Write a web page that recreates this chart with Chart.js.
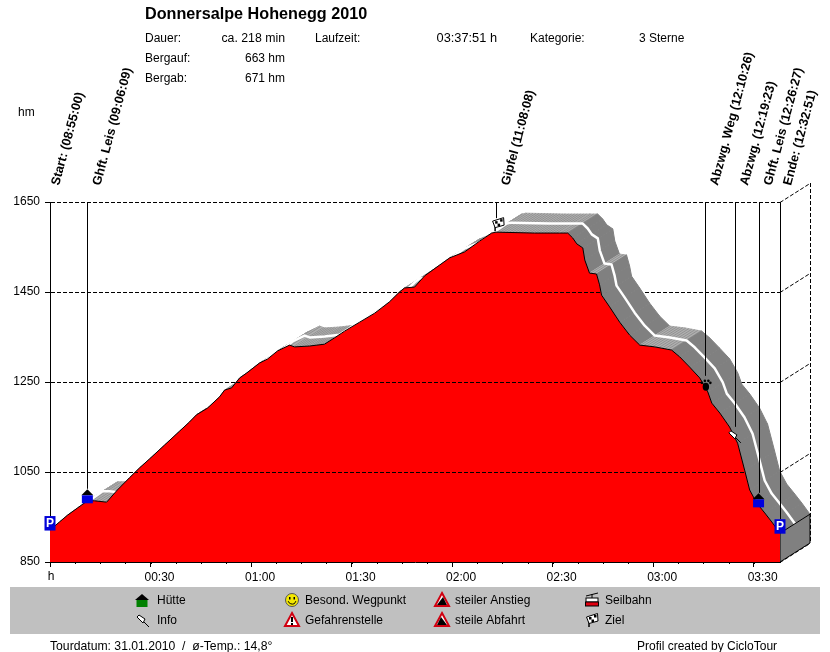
<!DOCTYPE html>
<html>
<head>
<meta charset="utf-8">
<title>Donnersalpe Hohenegg 2010</title>
<script src="https://cdn.jsdelivr.net/npm/chart.js@4"></script>
<style>
html, body { margin: 0; padding: 0; background: #fff; }
canvas { display: block; }
</style>
</head>
<body>
<canvas id="chart" width="830" height="652"></canvas>
<script>
// elevation profile, minutes since start / height in hm
const profileMinutes = [0, 2.84, 5.22, 8.2, 11.2, 13.3, 16.9, 20.1, 23.7, 26.7, 29.7, 34.2, 38.7, 41.6, 43.7, 47.0, 50.6, 52.1, 54.2, 56.6, 58.7, 62.5, 64.9, 67.9, 71.5, 73.0, 77.5, 81.9, 84.9, 87.9, 92.4, 96.9, 101.3, 104.3, 105.8, 108.8, 111.8, 116.3, 119.3, 123.7, 128.2, 131.8, 133.1, 144.6, 152.1, 154.5, 156.0, 157.2, 159.0, 159.6, 161.0, 163.1, 164.0, 164.6, 167.0, 170.0, 173.0, 176.0, 180.5, 185.5, 187.9, 190.9, 193.9, 196.3, 197.5, 199.9, 202.8, 205.2, 207.3, 208.8, 210.9, 213.3, 215.4, 217.85];
const profileHeights = [921, 939, 954, 970, 986, 986, 983, 1010, 1037, 1059, 1079, 1110, 1141, 1161, 1177, 1192, 1217, 1232, 1237, 1259, 1270, 1292, 1301, 1319, 1332, 1328, 1330, 1334, 1348, 1363, 1383, 1403, 1428, 1450, 1459, 1461, 1486, 1510, 1526, 1539, 1563, 1581, 1583, 1581, 1581, 1581, 1570, 1557, 1548, 1521, 1492, 1490, 1466, 1443, 1417, 1383, 1354, 1332, 1328, 1321, 1306, 1283, 1259, 1228, 1203, 1181, 1150, 1114, 1054, 1010, 981, 959, 939, 914];

// waypoints
const wayNames = ['Start: (08:55:00)', 'Ghft. Leis (09:06:09)', 'Gipfel (11:08:08)', 'Abzwg. Weg (12:10:26)', 'Abzwg. (12:19:23)', 'Ghft. Leis (12:26:27)', 'Ende: (12:32:51)'];
const wayMinutes = [0, 11.15, 133.13, 195.43, 204.38, 211.45, 217.85];
const wayHeights = [921, 986, 1583, 1237, 1137, 977, 914];
const wayIcons = ['park', 'hut', 'flag', 'paw', 'pin', 'hut', 'park'];

const legendLabels = ['Hütte', 'Info', 'Besond. Wegpunkt', 'Gefahrenstelle', 'steiler Anstieg', 'steile Abfahrt', 'Seilbahn', 'Ziel'];
const legendIcons = ['hutGreen', 'pin', 'smile', 'warn', 'up', 'down', 'gondola', 'flag'];

const depthX = 30, depthY = -19;
const DASH = [4, 2];
const FONT = '"Liberation Sans", Arial, sans-serif';

function text(c, s, x, y, font, align) {
    c.font = font || '12px ' + FONT;
    c.textAlign = align || 'left';
    c.textBaseline = 'alphabetic';
    c.fillStyle = '#000';
    c.fillText(s, x, y);
}

function poly(c, pts, fill, stroke) {
    c.beginPath();
    pts.forEach(function(p, i) { i ? c.lineTo(p[0], p[1]) : c.moveTo(p[0], p[1]); });
    c.closePath();
    if (fill) { c.fillStyle = fill; c.fill(); }
    if (stroke) { c.strokeStyle = stroke; c.stroke(); }
}

// icons, (x,y) is the middle of the icon
const icons = {
    hut: function(c, x, y) {
        poly(c, [[x - 6, y - 1], [x, y - 7], [x + 6, y - 1]], '#000');
        c.fillStyle = '#0000e0';
        c.fillRect(x - 5.5, y - 1, 11, 8);
    },
    hutGreen: function(c, x, y) {
        poly(c, [[x - 7, y], [x, y - 6], [x + 7, y]], '#000');
        c.fillStyle = '#008000';
        c.fillRect(x - 5.5, y, 11, 7);
    },
    park: function(c, x, y) {
        c.fillStyle = '#0000d8';
        c.fillRect(x - 5.5, y - 7, 11, 14.5);
        c.fillStyle = '#fff';
        c.font = 'bold 12px ' + FONT;
        c.textAlign = 'center';
        c.textBaseline = 'alphabetic';
        c.fillText('P', x, y + 4);
    },
    flag: function(c, x, y) {
        c.strokeStyle = '#000';
        c.lineWidth = 1.5;
        c.beginPath();
        c.moveTo(x - 3, y - 2);
        c.lineTo(x - 3, y + 7);
        c.stroke();
        c.lineWidth = 1;
        poly(c, [[x - 5.5, y - 3], [x + 5.5, y - 6.5], [x + 6, y + 1], [x - 3, y + 3.5]], '#fff', '#000');
        c.fillStyle = '#000';
        c.fillRect(x - 3, y - 3, 2.5, 2.5);
        c.fillRect(x + 2, y - 5, 2.5, 2.5);
        c.fillRect(x - 0.5, y - 0.5, 2.5, 2.5);
    },
    paw: function(c, x, y) {
        c.fillStyle = '#000';
        c.beginPath();
        c.ellipse(x, y + 2, 3.2, 4, 0, 0, Math.PI * 2);
        c.fill();
        [[-4, -2], [-1, -4], [2.5, -4], [4.5, -2]].forEach(function(o) {
            c.beginPath();
            c.arc(x + o[0], y + o[1], 1.3, 0, Math.PI * 2);
            c.fill();
        });
    },
    pin: function(c, x, y) {
        c.strokeStyle = '#000';
        c.lineWidth = 1;
        c.beginPath();
        c.moveTo(x + 2, y + 2);
        c.lineTo(x + 7, y + 7);
        c.stroke();
        poly(c, [[x - 5, y - 3], [x - 3, y - 5], [x + 3, y - 1], [x + 1, y + 3]], '#fff', '#000');
    },
    smile: function(c, x, y) {
        c.beginPath();
        c.arc(x, y, 6.5, 0, Math.PI * 2);
        c.fillStyle = '#f4e800';
        c.fill();
        c.strokeStyle = '#555';
        c.lineWidth = 1;
        c.stroke();
        c.fillStyle = '#000';
        c.fillRect(x - 3, y - 3, 1.5, 2.5);
        c.fillRect(x + 1.5, y - 3, 1.5, 2.5);
        c.beginPath();
        c.arc(x, y, 4, 0.3, Math.PI - 0.3);
        c.strokeStyle = '#000';
        c.stroke();
    },
    warn: function(c, x, y) {
        c.lineWidth = 2;
        poly(c, [[x, y - 7], [x + 7, y + 6], [x - 7, y + 6]], '#fff', '#d00010');
        c.fillStyle = '#000';
        c.fillRect(x - 1, y - 3, 2, 5);
        c.fillRect(x - 1, y + 3, 2, 2);
        c.lineWidth = 1;
    },
    up: function(c, x, y) {
        c.lineWidth = 2;
        poly(c, [[x, y - 7], [x + 7, y + 6], [x - 7, y + 6]], '#fff', '#d00010');
        c.lineWidth = 1;
        poly(c, [[x - 5, y + 5], [x + 1, y - 3], [x + 5, y + 5]], '#000');
    },
    down: function(c, x, y) {
        c.lineWidth = 2;
        poly(c, [[x, y - 7], [x + 7, y + 6], [x - 7, y + 6]], '#fff', '#d00010');
        c.lineWidth = 1;
        poly(c, [[x - 5, y + 5], [x - 1, y - 3], [x + 5, y + 5]], '#000');
    },
    gondola: function(c, x, y) {
        c.strokeStyle = '#000';
        c.lineWidth = 1;
        c.beginPath();
        c.moveTo(x - 6, y - 4);
        c.lineTo(x + 6, y - 7);
        c.moveTo(x, y - 6);
        c.lineTo(x, y - 2);
        c.stroke();
        c.fillStyle = '#fff';
        c.fillRect(x - 6, y - 2, 12, 4);
        c.strokeRect(x - 6, y - 2, 12, 4);
        c.fillStyle = '#e00010';
        c.fillRect(x - 6.5, y + 2, 13, 4);
        c.strokeRect(x - 6.5, y + 2, 13, 4);
    }
};

function profilePoints(chart) {
    const xs = chart.scales.x, ys = chart.scales.y;
    return profileMinutes.map(function(m, i) {
        return [xs.getPixelForValue(m), ys.getPixelForValue(profileHeights[i])];
    });
}

// 3d band behind the red profile and the back wall lines
const depthPlugin = {
    id: 'depth',
    beforeDatasetsDraw: function(chart) {
        const c = chart.ctx, area = chart.chartArea, ys = chart.scales.y;
        const pts = profilePoints(chart);
        c.save();
        c.lineWidth = 1;
        c.strokeStyle = '#000';
        c.setLineDash(DASH);
        ys.ticks.forEach(function(t) {
            const y = Math.round(ys.getPixelForValue(t.value)) + 0.5;
            c.beginPath();
            c.moveTo(area.right, y);
            c.lineTo(area.right + depthX, y + depthY);
            c.stroke();
        });
        c.beginPath();
        c.moveTo(area.right + depthX + 0.5, area.top + depthY);
        c.lineTo(area.right + depthX + 0.5, area.bottom + depthY);
        c.stroke();
        c.setLineDash([]);

        for (let i = 0; i < pts.length - 1; i++) {
            const a = pts[i], b = pts[i + 1];
            const slope = (b[1] - a[1]) / (b[0] - a[0]);
            const steep = slope > 0.6;
            const quad = [a, b, [b[0] + depthX, b[1] + depthY], [a[0] + depthX, a[1] + depthY]];
            c.lineWidth = 1;
            poly(c, quad, steep ? '#808080' : '#b0b0b0', steep ? '#808080' : '#b0b0b0');
            if (!steep) {
                // diagonal hatching of the flat parts
                c.strokeStyle = '#929292';
                const len = b[0] - a[0];
                for (let d = 1; d < len; d += 3) {
                    const px = a[0] + d, py = a[1] + slope * d;
                    c.beginPath();
                    c.moveTo(px, py);
                    c.lineTo(px + depthX, py + depthY);
                    c.stroke();
                }
            }
        }
        // white track in the middle of the band
        c.strokeStyle = '#fff';
        c.lineWidth = 2.5;
        c.lineJoin = 'round';
        c.beginPath();
        pts.forEach(function(p, i) {
            const x = p[0] + depthX / 2, y = p[1] + depthY / 2;
            i ? c.lineTo(x, y) : c.moveTo(x, y);
        });
        c.stroke();

        // end face
        c.lineWidth = 1;
        const last = pts[pts.length - 1];
        poly(c, [[last[0], last[1]], [last[0] + depthX, last[1] + depthY], [last[0] + depthX, area.bottom + depthY], [last[0], area.bottom]], '#808080', '#000');
        c.restore();
    },
    afterDatasetsDraw: function(chart) {
        // gridlines show through the red area, not through the band
        const c = chart.ctx, area = chart.chartArea, ys = chart.scales.y;
        const pts = profilePoints(chart);
        c.save();
        c.beginPath();
        c.moveTo(pts[0][0], area.bottom);
        pts.forEach(function(p) { c.lineTo(p[0], p[1]); });
        c.lineTo(pts[pts.length - 1][0], area.bottom);
        c.closePath();
        c.clip();
        c.setLineDash(DASH);
        c.strokeStyle = '#000';
        c.lineWidth = 1;
        ys.ticks.forEach(function(t) {
            const y = Math.round(ys.getPixelForValue(t.value)) + 0.5;
            c.beginPath();
            c.moveTo(area.left, y);
            c.lineTo(area.right, y);
            c.stroke();
        });
        c.restore();
    }
};

// waypoints, header, legend box and footer
const annotatePlugin = {
    id: 'annotate',
    afterDraw: function(chart) {
        const c = chart.ctx, area = chart.chartArea, xs = chart.scales.x, ys = chart.scales.y;
        c.save();

        // minor ticks
        c.strokeStyle = '#000';
        c.lineWidth = 1;
        for (let m = 7.5; m < 217; m += 7.5) {
            const x = Math.round(xs.getPixelForValue(m)) + 0.5;
            c.beginPath();
            c.moveTo(x, area.bottom);
            c.lineTo(x, area.bottom + 2);
            c.stroke();
        }
        text(c, 'h', xs.getPixelForValue(0) + 1, 580, '12px ' + FONT, 'center');
        text(c, 'hm', 18, 116);

        // header
        text(c, 'Donnersalpe Hohenegg 2010', 145, 19, 'bold 16.2px ' + FONT);
        text(c, 'Dauer:', 145, 42);
        text(c, 'ca. 218 min', 285, 42, '12.3px ' + FONT, 'right');
        text(c, 'Laufzeit:', 315, 42);
        text(c, '03:37:51 h', 497, 42, '12.8px ' + FONT, 'right');
        text(c, 'Kategorie:', 530, 42);
        text(c, '3 Sterne', 639, 42);
        text(c, 'Bergauf:', 145, 62);
        text(c, '663 hm', 285, 62, null, 'right');
        text(c, 'Bergab:', 145, 82);
        text(c, '671 hm', 285, 82, null, 'right');

        // waypoints
        const lineEnd = { park: -14, hut: -12, flag: -14, paw: -12, pin: -6 };
        const iconShift = { park: [0, -7], hut: [0, -4.5], flag: [2, -8], paw: [1, -3], pin: [-1, 3] };
        const labelShift = [9, 13, 13, 13, 13, 13, 11];
        wayMinutes.forEach(function(m, i) {
            const x = xs.getPixelForValue(m), y = ys.getPixelForValue(wayHeights[i]);
            const name = wayIcons[i];
            const lx = Math.round(x) + 0.5;
            c.strokeStyle = '#000';
            c.lineWidth = 1;
            c.beginPath();
            c.moveTo(lx, area.top);
            c.lineTo(lx, y + lineEnd[name]);
            c.stroke();
            icons[name](c, x + iconShift[name][0], y + iconShift[name][1]);

            c.save();
            c.translate(x + labelShift[i], 186);
            c.rotate(-75 * Math.PI / 180);
            text(c, wayNames[i], 0, 0, 'bold 12.7px ' + FONT);
            c.restore();
        });

        // legend box
        c.fillStyle = '#c0c0c0';
        c.fillRect(10, 587, 810, 47);
        legendLabels.forEach(function(label, i) {
            const col = Math.floor(i / 2), row = i % 2;
            const x = 142 + col * 150, y = 600 + row * 20;
            icons[legendIcons[i]](c, x, y);
            text(c, label, x + (col === 0 ? 15 : 13), y + 4);
        });

        // footer
        text(c, 'Tourdatum: 31.01.2010  /  ø-Temp.: 14,8°', 50, 650, '12.2px ' + FONT);
        text(c, 'Profil created by CicloTour', 637, 650);
        c.restore();
    }
};

new Chart(document.getElementById('chart'), {
    type: 'line',
    data: {
        datasets: [{
            label: 'Höhe',
            data: profileMinutes.map(function(m, i) { return { x: m, y: profileHeights[i] }; }),
            borderColor: '#000',
            borderWidth: 1,
            backgroundColor: '#ff0000',
            fill: 'start',
            pointRadius: 0,
            tension: 0
        }]
    },
    options: {
        responsive: false,
        animation: false,
        devicePixelRatio: 1,
        layout: { padding: { left: 0, top: 202, right: 50, bottom: 65 } },
        plugins: { legend: { display: false }, tooltip: { enabled: false }, title: { display: false } },
        scales: {
            x: {
                type: 'linear',
                min: 0,
                max: 217.85,
                afterFit: function(scale) { scale.height = 25; },
                border: { color: '#000' },
                grid: { drawOnChartArea: false, color: '#000', tickLength: 5 },
                ticks: {
                    stepSize: 30,
                    includeBounds: false,
                    autoSkip: false,
                    maxRotation: 0,
                    labelOffset: 9,
                    padding: 3,
                    color: '#000',
                    font: { family: FONT, size: 12 },
                    callback: function(value) {
                        if (value === 0) return '';
                        const h = Math.floor(value / 60), m = value % 60;
                        return String(h).padStart(2, '0') + ':' + String(m).padStart(2, '0');
                    }
                }
            },
            y: {
                min: 850,
                max: 1650,
                afterFit: function(scale) { scale.width = 50; },
                border: { color: '#000', dash: DASH },
                grid: { color: '#000', tickLength: 5, tickBorderDash: [], tickColor: '#000' },
                ticks: {
                    stepSize: 200,
                    padding: 5,
                    color: '#000',
                    font: { family: FONT, size: 12 },
                    callback: function(value) { return String(value); }
                }
            }
        }
    },
    plugins: [depthPlugin, annotatePlugin]
});
</script>
</body>
</html>
